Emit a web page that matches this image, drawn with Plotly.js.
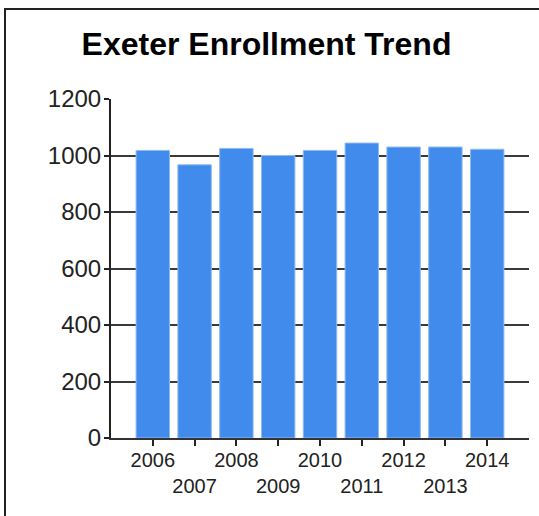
<!DOCTYPE html>
<html>
<head>
<meta charset="utf-8">
<script src="https://cdn.plot.ly/plotly-3.0.1.min.js"></script>
<style>
html, body { margin: 0; padding: 0; background: #fff; }
#chart { width: 539px; height: 516px; }
</style>
</head>
<body>
<div id="chart"></div>
<script>
// Data
const years = ["2006", "2007", "2008", "2009", "2010", "2011", "2012", "2013", "2014"];
const enrollment = [1018, 967, 1025, 1000, 1018, 1044, 1030, 1030, 1022];
const yTicks = [0, 200, 400, 600, 800, 1000, 1200];
const titleText = "Exeter Enrollment Trend";

// Staggered tick labels (every other label drops to a second row)
const xTickText = years.map((y, i) => (i % 2 === 0 ? y : "<br>" + y));

const W = 539, H = 516;
const M = { l: 111, r: 10, t: 99, b: 78 };
const pw = W - M.l - M.r, ph = H - M.t - M.b;
const px = x => (x - M.l) / pw;
const py = y => (H - M.b - y) / ph;

const font = "Liberation Sans, Arial, sans-serif";

const trace = {
  type: "bar",
  x: years,
  y: enrollment,
  marker: { color: "#418BEC", line: { color: "#8DBBF5", width: 1 } },
  hoverinfo: "x+y"
};

const layout = {
  width: W,
  height: H,
  margin: M,
  paper_bgcolor: "#ffffff",
  plot_bgcolor: "#ffffff",
  showlegend: false,
  bargap: 0.2,
  title: {
    text: titleText,
    font: { family: font, size: 32, weight: 700, color: "#000" },
    xref: "container", x: 266.5 / W, xanchor: "center",
    yref: "container", y: 1 - 44 / H, yanchor: "middle"
  },
  xaxis: {
    type: "category",
    range: [-1, 9],
    tickvals: years,
    ticktext: xTickText,
    ticks: "outside",
    ticklen: 6,
    tickwidth: 2,
    tickcolor: "#222",
    showline: true,
    linecolor: "#333",
    linewidth: 2,
    showgrid: false,
    zeroline: false,
    ticklabelstandoff: -3,
    tickfont: { family: font, size: 20, color: "#222" },
    tickangle: 0
  },
  yaxis: {
    range: [0, 1200],
    tickvals: yTicks,
    ticks: "outside",
    ticklen: 5,
    tickwidth: 2,
    tickcolor: "#222",
    showline: true,
    linecolor: "#222",
    linewidth: 2,
    showgrid: true,
    gridcolor: "#3a3a3a",
    gridwidth: 2,
    zeroline: false,
    ticklabelstandoff: -2,
    tickfont: { family: font, size: 24, color: "#222" }
  },
  shapes: [
    {
      type: "rect", xref: "paper", yref: "paper",
      x0: px(5), x1: px(W + 20), y0: py(H + 20), y1: py(9),
      line: { color: "#222", width: 2 }, fillcolor: "rgba(0,0,0,0)", layer: "below"
    }
  ]
};

Plotly.newPlot("chart", [trace], layout, { displayModeBar: false, staticPlot: true });
</script>
</body>
</html>
